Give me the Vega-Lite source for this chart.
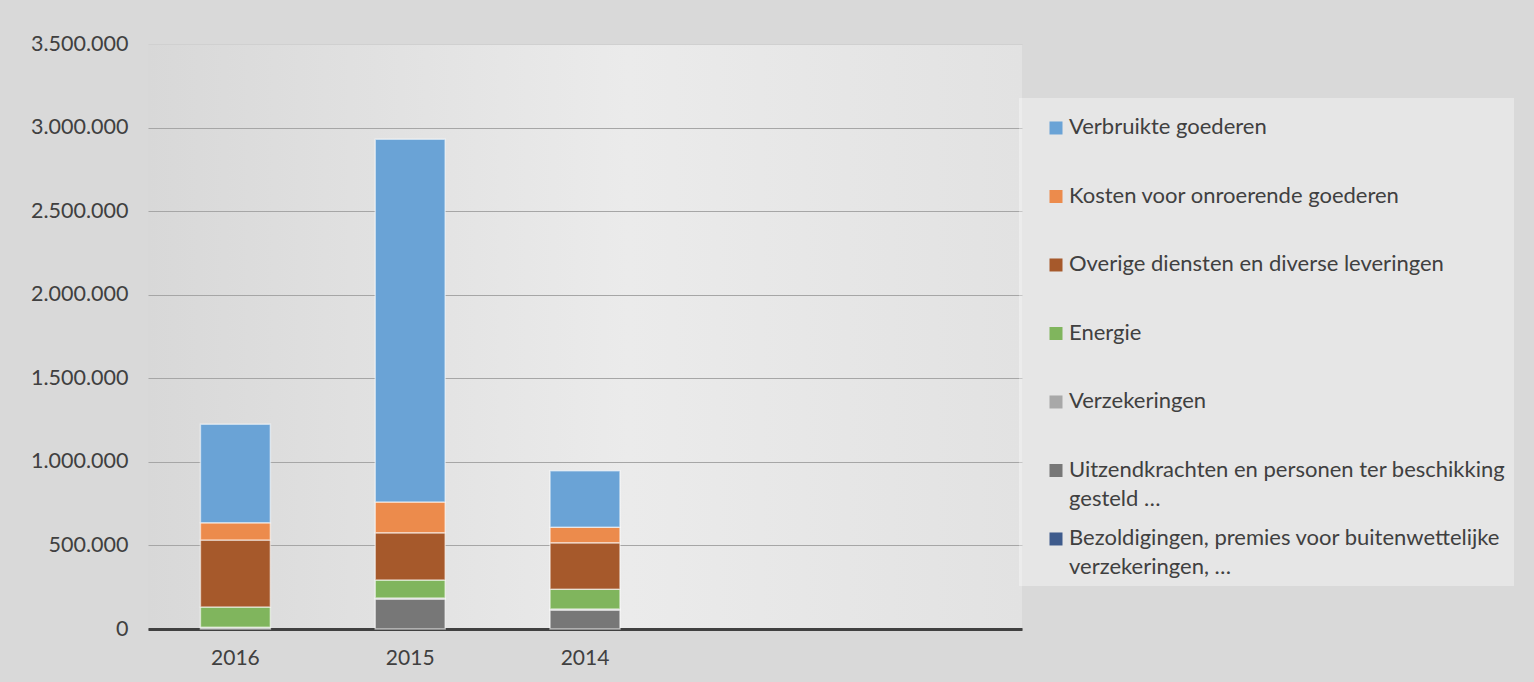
{
  "$schema": "https://vega.github.io/schema/vega-lite/v6.json",
  "width": 874,
  "height": 585,
  "autosize": {"type": "none"},
  "padding": {"left": 148, "top": 44, "right": 512, "bottom": 53},
  "background": "#d9d9d9",
  "config": {
    "locale": {"number": {"decimal": ",", "thousands": ".", "grouping": [3], "currency": ["€", ""]}},
    "font": "Lato",
    "style": {"guide-label": {"lineHeight": 29}},
    "view": {"stroke": null, "fill": {"gradient": "linear", "x1": 0, "y1": 0, "x2": 1, "y2": 0, "stops": [{"offset": 0, "color": "#d8d8d8"}, {"offset": 0.55, "color": "#ebebeb"}, {"offset": 1, "color": "#e2e2e2"}]}}
  },
  "data": {
    "values": [
      {"year": "2016", "category": "Verzekeringen", "stackOrder": 3, "value": 10000},
      {"year": "2016", "category": "Energie", "stackOrder": 4, "value": 122000},
      {"year": "2016", "category": "Overige diensten en diverse leveringen", "stackOrder": 5, "value": 401000},
      {"year": "2016", "category": "Kosten voor onroerende goederen", "stackOrder": 6, "value": 102000},
      {"year": "2016", "category": "Verbruikte goederen", "stackOrder": 7, "value": 590000},
      {"year": "2015", "category": "Uitzendkrachten en personen ter beschikking gesteld …", "stackOrder": 2, "value": 180000},
      {"year": "2015", "category": "Verzekeringen", "stackOrder": 3, "value": 5000},
      {"year": "2015", "category": "Energie", "stackOrder": 4, "value": 108000},
      {"year": "2015", "category": "Overige diensten en diverse leveringen", "stackOrder": 5, "value": 283000},
      {"year": "2015", "category": "Kosten voor onroerende goederen", "stackOrder": 6, "value": 184000},
      {"year": "2015", "category": "Verbruikte goederen", "stackOrder": 7, "value": 2170000},
      {"year": "2014", "category": "Uitzendkrachten en personen ter beschikking gesteld …", "stackOrder": 2, "value": 114000},
      {"year": "2014", "category": "Verzekeringen", "stackOrder": 3, "value": 5000},
      {"year": "2014", "category": "Energie", "stackOrder": 4, "value": 118500},
      {"year": "2014", "category": "Overige diensten en diverse leveringen", "stackOrder": 5, "value": 279000},
      {"year": "2014", "category": "Kosten voor onroerende goederen", "stackOrder": 6, "value": 92500},
      {"year": "2014", "category": "Verbruikte goederen", "stackOrder": 7, "value": 338500}
    ]
  },
  "mark": {"type": "bar", "stroke": "#ffffff", "strokeOpacity": 0.55, "strokeWidth": 1.5},
  "encoding": {
    "x": {
      "field": "year",
      "type": "nominal",
      "scale": {"domain": ["2016", "2015", "2014", "x4", "x5"], "paddingInner": 0.6, "paddingOuter": 0.3},
      "axis": {
        "title": null,
        "labelAngle": 0,
        "labelExpr": "indexof(['2016','2015','2014'], datum.label) >= 0 ? datum.label : ''",
        "ticks": false,
        "domainColor": "#404040",
        "domainWidth": 3,
        "labelFontSize": 21,
        "labelColor": "#404040",
        "labelPadding": 18
      }
    },
    "y": {
      "field": "value",
      "type": "quantitative",
      "aggregate": "sum",
      "stack": "zero",
      "scale": {"domain": [0, 3500000], "nice": false},
      "axis": {
        "title": null,
        "values": [0, 500000, 1000000, 1500000, 2000000, 2500000, 3000000, 3500000],
        "format": ",d",
        "domain": false,
        "ticks": false,
        "labelFontSize": 21.5,
        "labelColor": "#404040",
        "labelPadding": 20,
        "gridColor": {"condition": {"test": "datum.value == 3500000", "value": "#d0d0d0"}, "value": "#a6a6a6"},
        "gridWidth": 1.2
      }
    },
    "order": {"field": "stackOrder", "type": "quantitative", "sort": "ascending"},
    "color": {
      "field": "category",
      "type": "nominal",
      "scale": {
        "domain": [
          "Bezoldigingen, premies voor buitenwettelijke verzekeringen, …",
          "Uitzendkrachten en personen ter beschikking gesteld …",
          "Verzekeringen",
          "Energie",
          "Overige diensten en diverse leveringen",
          "Kosten voor onroerende goederen",
          "Verbruikte goederen"
        ],
        "range": ["#3e5b8c", "#777777", "#a8a8a8", "#80b55d", "#a6592b", "#ec8b4c", "#6aa3d6"]
      },
      "legend": {
        "title": null,
        "orient": "none",
        "legendX": 871,
        "legendY": 54,
        "values": [
          "Verbruikte goederen",
          "Kosten voor onroerende goederen",
          "Overige diensten en diverse leveringen",
          "Energie",
          "Verzekeringen",
          "Uitzendkrachten en personen ter beschikking gesteld …",
          "Bezoldigingen, premies voor buitenwettelijke verzekeringen, …"
        ],
        "labelExpr": "datum.label == 'Uitzendkrachten en personen ter beschikking gesteld …' ? ['Uitzendkrachten en personen ter beschikking', 'gesteld …'] : datum.label == 'Bezoldigingen, premies voor buitenwettelijke verzekeringen, …' ? ['Bezoldigingen, premies voor buitenwettelijke', 'verzekeringen, …'] : [datum.label, ' ']",
        "symbolType": "M-1,0.69H1V2.69H-1Z",
        "symbolSize": 169,
        "symbolStrokeWidth": 0,
        "symbolOffset": 18,
        "labelFontSize": 22,
        "labelColor": "#404040",
        "labelLimit": 600,
        "labelOffset": 2,
        "labelBaseline": "top",
        "rowPadding": 7.5,
        "padding": 8,
        "fillColor": "rgba(255,255,255,0.35)"
      }
    }
  }
}
